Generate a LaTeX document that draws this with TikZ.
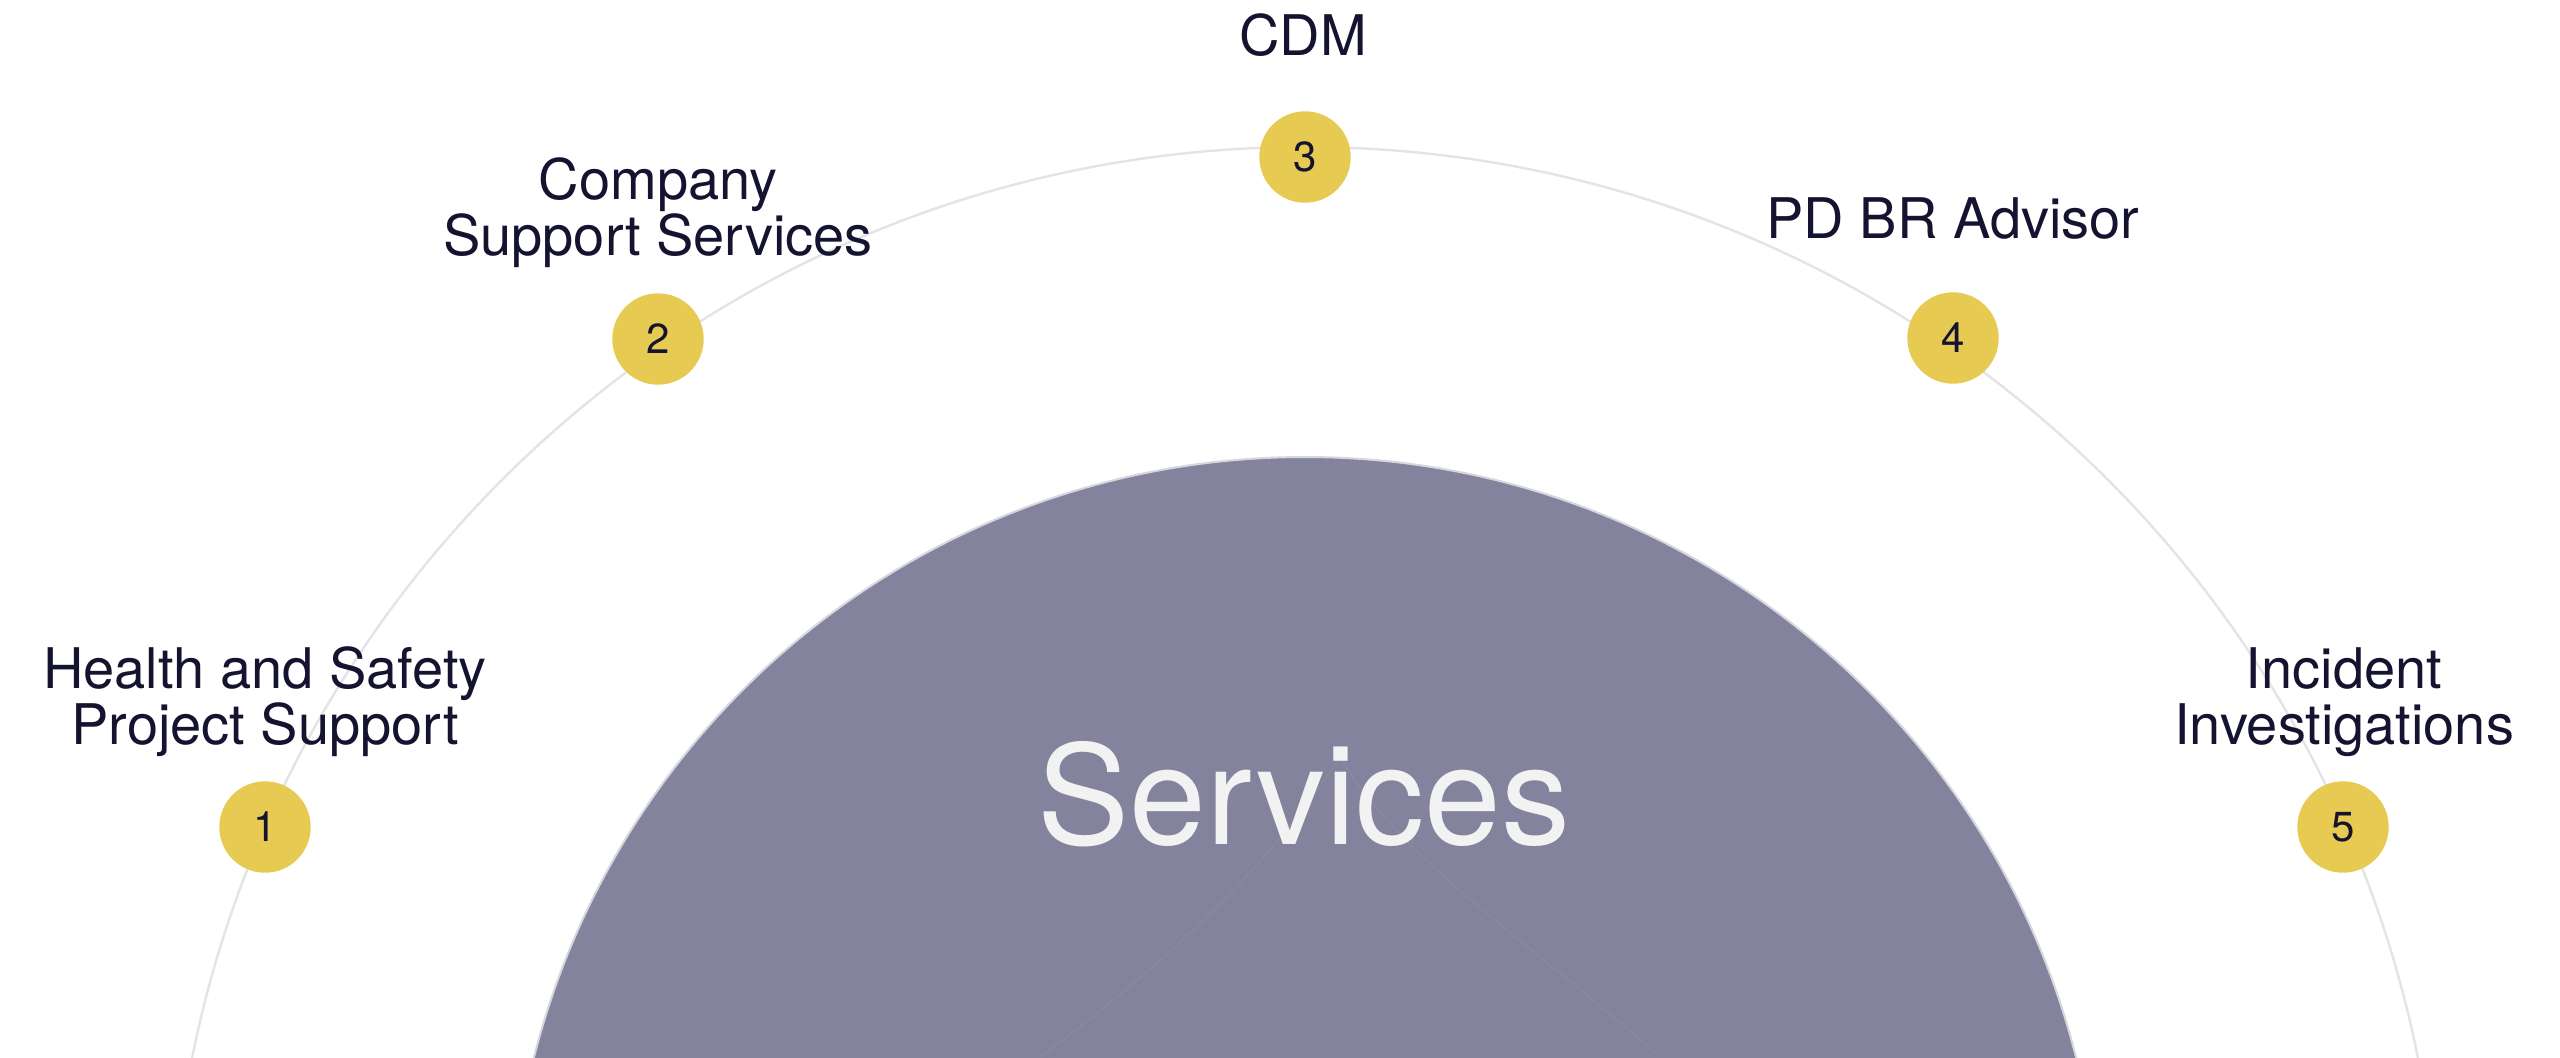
\documentclass[tikz,border=0pt]{standalone}
\usepackage{fontspec}
\setmainfont{TeX Gyre Heros}
\definecolor{ink}{RGB}{21,20,48}
\definecolor{gold}{RGB}{231,202,82}
\definecolor{hub}{RGB}{131,131,157}
\definecolor{ring}{RGB}{228,228,230}
\definecolor{hubedge}{RGB}{214,214,222}
\definecolor{ghost}{RGB}{139,139,163}
\definecolor{snow}{RGB}{242,242,242}
\begin{document}
\begin{tikzpicture}[x=0.5pt,y=-0.5pt,
  badge/.style={circle,fill=gold,minimum size=45.7pt,inner sep=0pt,text=ink,font=\fontsize{21}{21}\selectfont},
  lbl/.style={text=ink,align=center,anchor=base,inner sep=0pt,font=\fontsize{28}{28}\selectfont}]
\useasboundingbox (0,0) rectangle (2560,1057);
\clip (0,0) rectangle (2560,1057);
\fill[white] (0,0) rectangle (2560,1057);
% outer orbit
\draw[ring,line width=1.2pt] (1305,1282) circle[radius=1135];
% hub
\draw[hubedge,line width=1pt,fill=hub] (1305,1252) circle[radius=795];
% faint shape inside the hub
\draw[ghost,line width=0.5pt] (1040,1057) .. controls (1150,975) and (1260,880) .. (1340,757)
  .. controls (1400,860) and (1540,950) .. (1660,1057);
\node[text=snow,anchor=base,inner sep=0pt,font=\fontsize{69}{69}\selectfont] (hubtext) at (1304,844) {Services};
% badges
\node[badge] (c1) at (265,827) {1};
\node[badge] (c2) at (658,339) {2};
\node[badge] (c3) at (1305,157) {3};
\node[badge] (c4) at (1953,338) {4};
\node[badge] (c5) at (2343,827) {5};
% labels (anchor base = baseline of the last line)
\node[lbl] (l1) at (265,744) {Health and Safety\\Project Support};
\node[lbl] (l2) at (658,255) {Company\\Support Services};
\node[lbl] (l3) at (1303,55) {CDM};
\node[lbl] (l4) at (1953,238) {PD BR Advisor};
\node[lbl] (l5) at (2344,744) {Incident\\Investigations};
\end{tikzpicture}
\end{document}
